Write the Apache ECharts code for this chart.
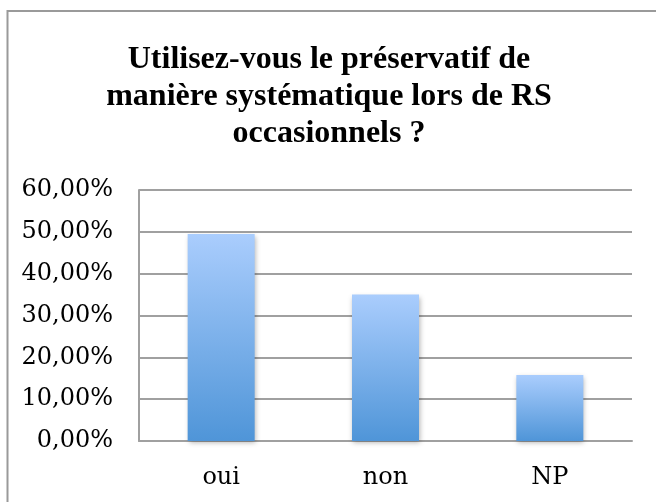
<!DOCTYPE html>
<html>
<head>
<meta charset="utf-8">
<script src="https://cdn.jsdelivr.net/npm/echarts@6/dist/echarts.min.js"></script>
<style>
  html, body { margin: 0; padding: 0; background: #fff; }
  #chart { width: 656px; height: 502px; }
</style>
</head>
<body>
<div id="chart"></div>
<script>
// data
var categories = ['oui', 'non', 'NP'];
var values = [0.495, 0.35, 0.158];
var yTicks = [0, 0.1, 0.2, 0.3, 0.4, 0.5, 0.6];

var gridColor = '#a0a0a0';
var labelFont = 'DejaVu Serif';

var myChart = echarts.init(document.getElementById('chart'));
myChart.setOption({
    backgroundColor: '#ffffff',
    animation: false,
    title: {
        text: 'Utilisez-vous le préservatif de\nmanière systématique lors de RS\noccasionnels ?',
        left: 324,
        top: 36,
        textAlign: 'center',
        textStyle: {
            fontFamily: 'Liberation Serif',
            fontWeight: 'bold',
            fontSize: 32,
            lineHeight: 37,
            color: '#000'
        }
    },
    graphic: [{
        type: 'polyline',
        shape: {points: [[7.5, 502], [7.5, 11], [656, 11]]},
        style: {stroke: '#9a9a9a', lineWidth: 2, fill: null},
        silent: true
    }],
    grid: {left: 139, right: 24, top: 190, bottom: 61},
    xAxis: {
        type: 'category',
        data: categories,
        axisLine: {show: true, lineStyle: {color: gridColor, width: 2}},
        axisTick: {show: false},
        axisLabel: {
            margin: 25,
            fontFamily: labelFont,
            fontSize: 24,
            color: '#000'
        }
    },
    yAxis: {
        type: 'value',
        min: yTicks[0],
        max: yTicks[yTicks.length - 1],
        interval: 0.1,
        axisLine: {show: true, lineStyle: {color: gridColor, width: 2}},
        axisTick: {show: false},
        splitLine: {lineStyle: {color: gridColor, width: 2}},
        axisLabel: {
            margin: 26,
            fontFamily: labelFont,
            fontSize: 24,
            color: '#000',
            formatter: function (v) {
                return (v * 100).toFixed(2).replace('.', ',') + '%';
            }
        }
    },
    series: [{
        type: 'bar',
        data: values,
        barWidth: 67,
        itemStyle: {
            color: new echarts.graphic.LinearGradient(0, 0, 0, 1, [
                {offset: 0, color: '#aacdfd'},
                {offset: 1, color: '#4f95d8'}
            ]),
            shadowColor: 'rgba(0,0,0,0.3)',
            shadowBlur: 5,
            shadowOffsetX: 1,
            shadowOffsetY: 2
        }
    }]
});
</script>
</body>
</html>
